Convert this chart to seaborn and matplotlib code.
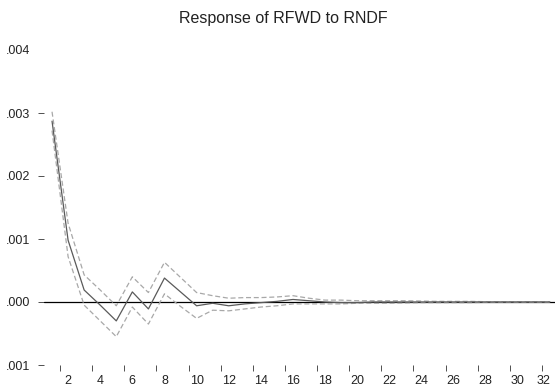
import numpy as np
import pandas as pd
import matplotlib
matplotlib.use("Agg")
import matplotlib.pyplot as plt
import seaborn as sns

periods = list(range(1, 33))
response = [2.87, 0.98, 0.19, -0.05, -0.30, 0.16, -0.11, 0.38, 0.16, -0.06,
            -0.02, -0.06, -0.03, -0.01, 0.01, 0.04, 0.02, 0.00, -0.01, -0.01,
            0.00, 0.00, 0.00, 0.00, 0.00, 0.00, 0.00, 0.00, 0.00, 0.00, 0.00, 0.00]
upper = [3.02, 1.25, 0.43, 0.19, -0.06, 0.40, 0.15, 0.63, 0.39, 0.15,
         0.10, 0.06, 0.07, 0.07, 0.08, 0.10, 0.06, 0.03, 0.03, 0.02,
         0.02, 0.02, 0.02, 0.015, 0.01, 0.01, 0.01, 0.005, 0.005, 0.005, 0.005, 0.005]
lower = [2.72, 0.72, -0.05, -0.30, -0.55, -0.08, -0.35, 0.13, -0.07, -0.26,
         -0.13, -0.14, -0.11, -0.08, -0.06, -0.03, -0.03, -0.03, -0.03, -0.02,
         -0.02, -0.02, -0.015, -0.01, -0.01, -0.01, -0.01, -0.005, -0.005, -0.005, -0.005, -0.005]
scale = 1e-3
ytick_vals = [-0.001, 0.0, 0.001, 0.002, 0.003, 0.004]
ytick_labels = [".001", ".000", ".001", ".002", ".003", ".004"]
xtick_labels = [2, 4, 6, 8, 10, 12, 14, 16, 18, 20, 22, 24, 26, 28, 30, 32]
title = "Response of RFWD to RNDF"

sns.set_style("white")
plt.rcParams['font.family'] = ['Liberation Sans', 'DejaVu Sans']

df = pd.DataFrame({
    "period": periods,
    "response": np.array(response) * scale,
    "upper": np.array(upper) * scale,
    "lower": np.array(lower) * scale,
})

fig = plt.figure(figsize=(5.55, 3.88), dpi=100)
W, H = 555, 388
ax = fig.add_axes([44 / W, (H - 365) / H, (558 - 44) / W, (365 - 50) / H])

ax.axhline(0, color="black", lw=0.9, zorder=1)
sns.lineplot(data=df, x="period", y="upper", ax=ax, color="#a8a8a8", lw=0.9,
             dashes=False, linestyle=(0, (4, 2.2)), zorder=2)
sns.lineplot(data=df, x="period", y="lower", ax=ax, color="#a8a8a8", lw=0.9,
             dashes=False, linestyle=(0, (4, 2.2)), zorder=2)
sns.lineplot(data=df, x="period", y="response", ax=ax, color="#5a5a5a", lw=0.9, zorder=3)

ax.set_xlim(0.5, 32.5)
ax.set_ylim(-0.001, 0.004)
for s in ax.spines.values():
    s.set_visible(False)

ax.set_xticks([v - 0.5 for v in xtick_labels])
ax.set_xticklabels([])
ax.set_xticks(xtick_labels, minor=True)
ax.set_xticklabels([str(v) for v in xtick_labels], minor=True)
ax.tick_params(axis="x", which="major", direction="out", length=4, width=0.6,
               color="#333333", bottom=True)
ax.tick_params(axis="x", which="minor", length=0, pad=7, labelsize=9,
               labelcolor="#222222", bottom=True)
# keep the last label inside the figure edge
ax.get_xticklabels(minor=True)[-1].set_horizontalalignment("right")

ax.set_yticks(ytick_vals)
ax.set_yticklabels(ytick_labels)
ax.tick_params(axis="y", which="major", direction="out", length=4, width=0.6,
               color="#333333", pad=6, labelsize=9, labelcolor="#222222", left=True)
ax.yaxis.get_major_ticks()[-1].tick1line.set_visible(False)

ax.set_xlabel("")
ax.set_ylabel("")
ax.grid(False)

fig.text(283 / W, 1 - 19 / H, title, ha="center", va="center",
         fontsize=11.5, color="#222222")

fig.savefig("out.png", dpi=100)
